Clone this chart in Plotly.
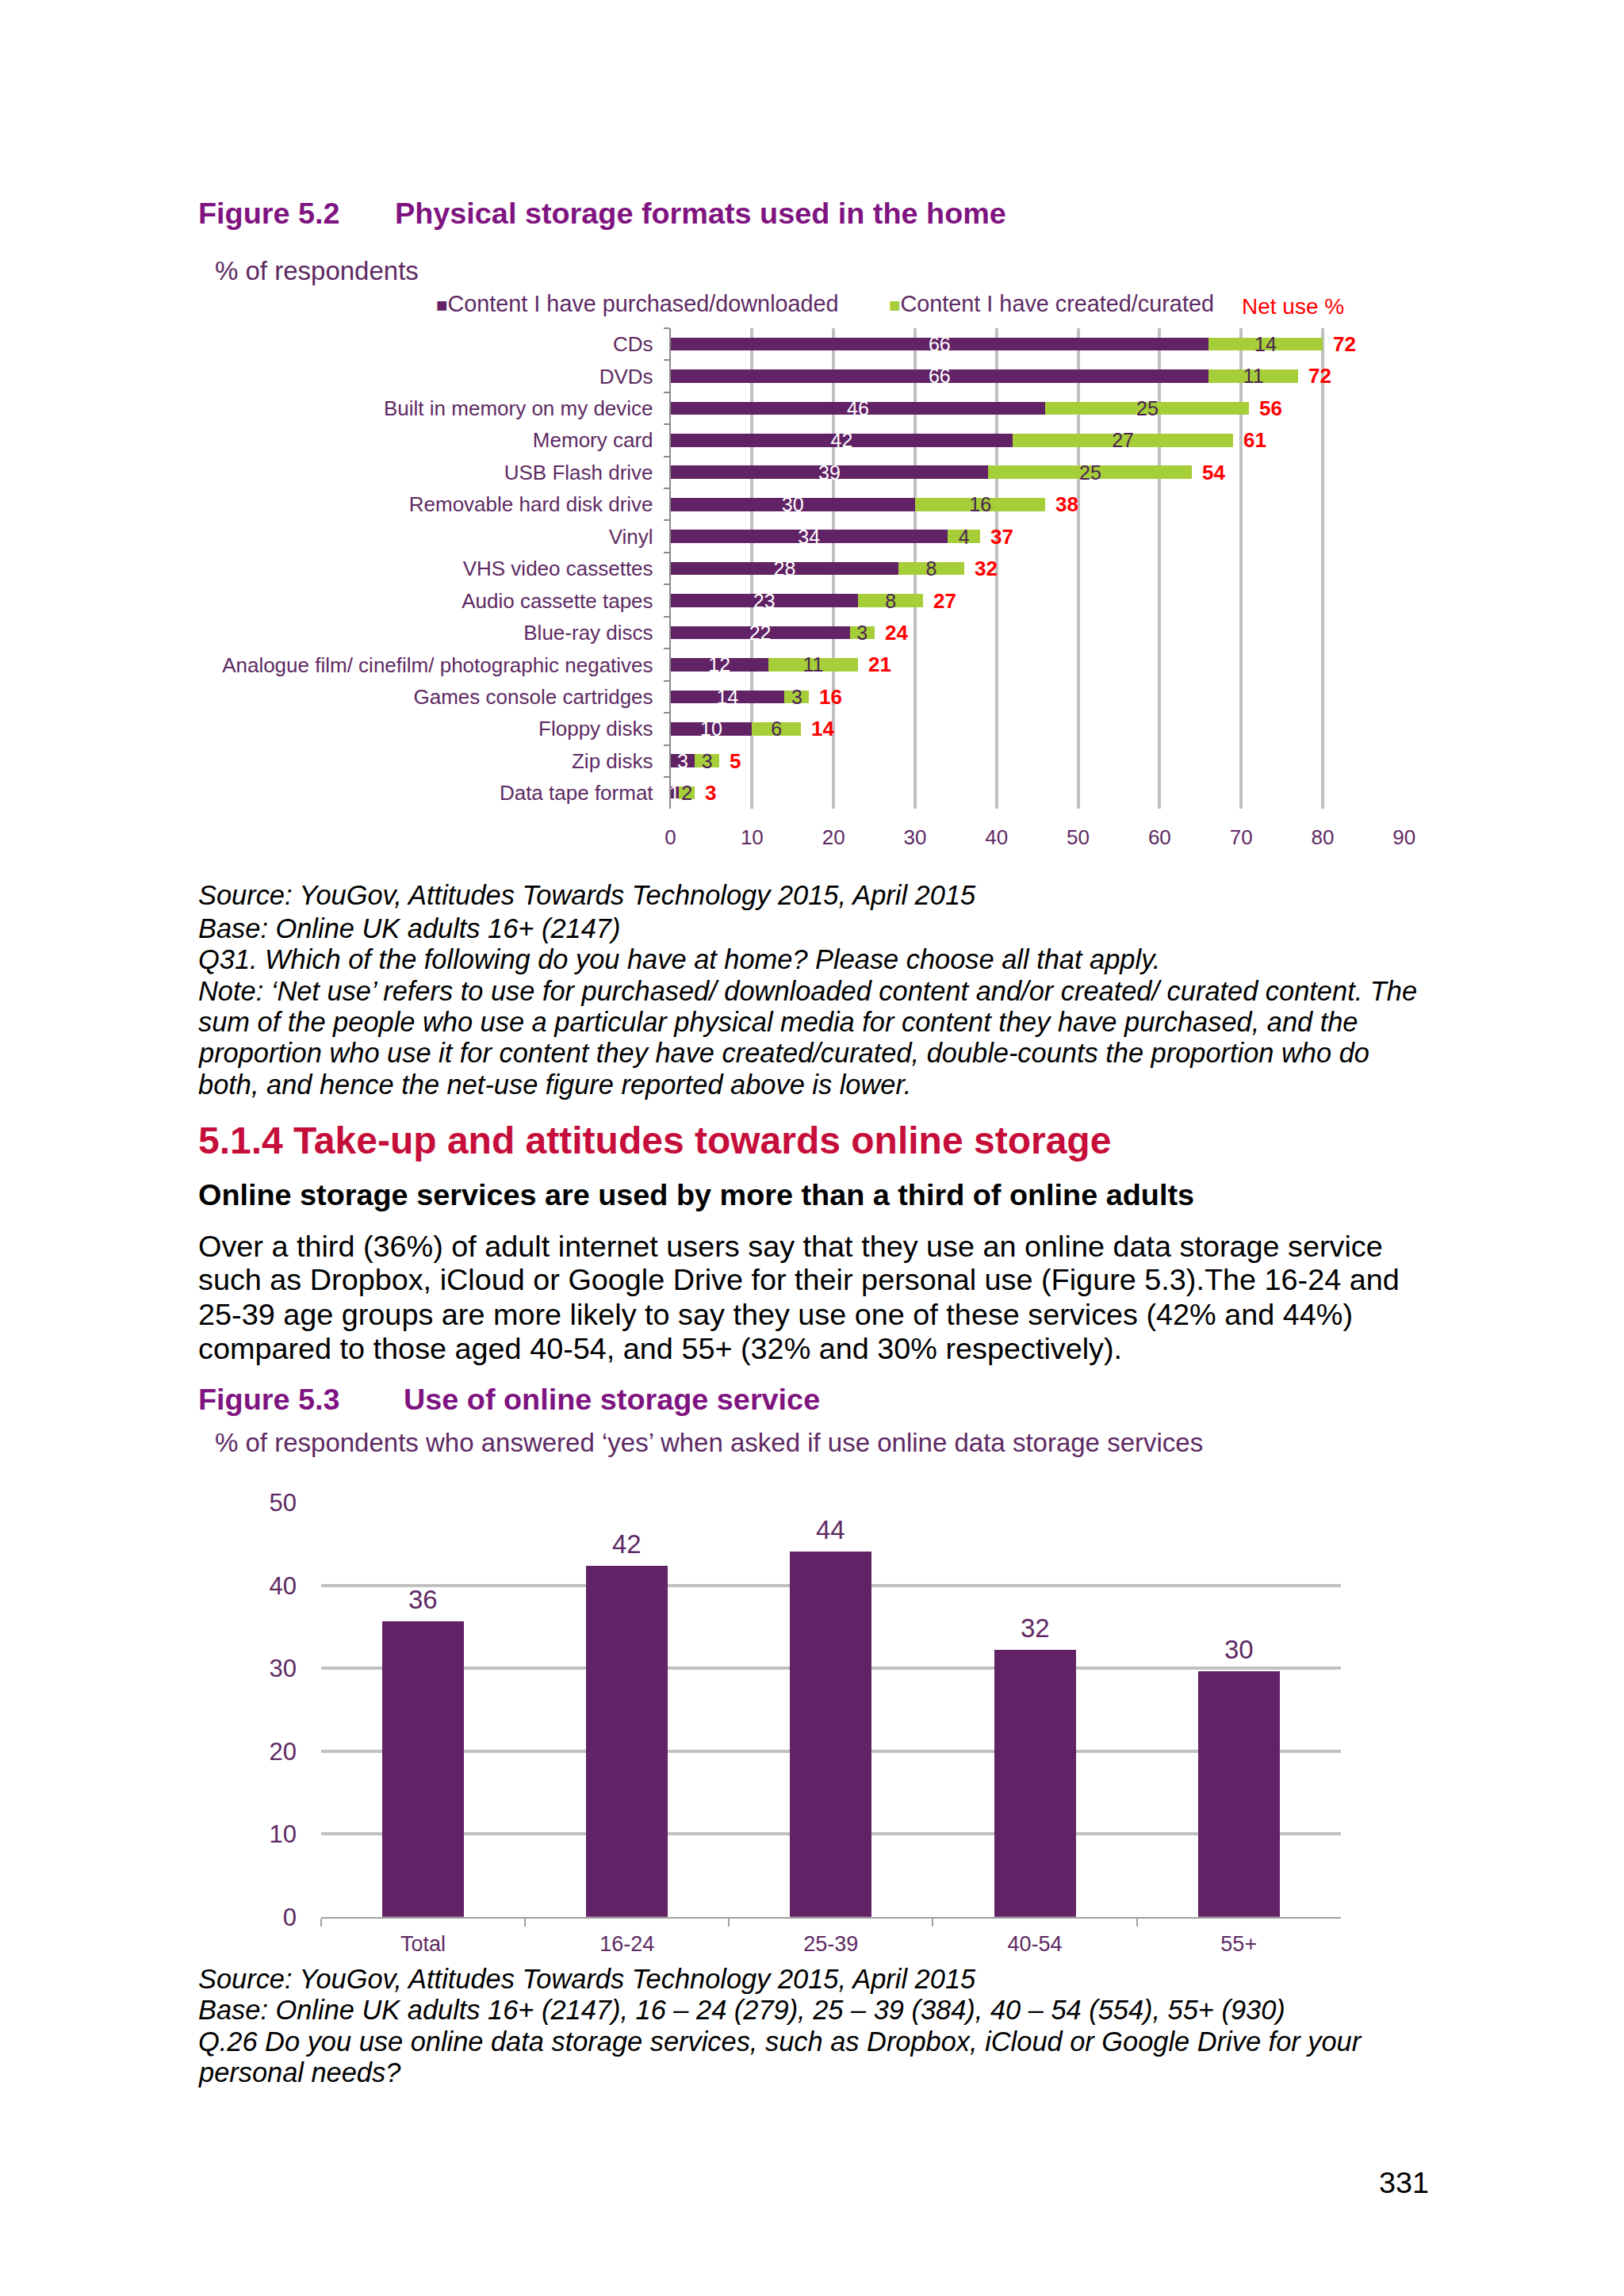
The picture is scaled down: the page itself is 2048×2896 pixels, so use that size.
import plotly.graph_objects as go

W, H = 2048, 2896

# Measured render mapping of this page (layout px -> photographed px), compensated here
SX, OX = 0.99054, 3.8
SY, OY = 0.98696, 18.58


def px(x):
    return ((x - OX) / SX) / W


def py(y):
    return 1 - ((y - OY) / SY) / H


FONT = "Liberation Sans, Arial, sans-serif"
PURPLE = "#622366"
GREEN = "#A6CE39"
TXT = "#5E2A63"
TITLE = "#7F1481"
CRIMSON = "#C60E3A"
RED = "#FF0000"
GRID = "#C0C0C0"

# ---------------- Figure 5.2 data ----------------
formats = [
    "CDs", "DVDs", "Built in memory on my device", "Memory card", "USB Flash drive",
    "Removable hard disk drive", "Vinyl", "VHS video cassettes", "Audio cassette tapes",
    "Blue-ray discs", "Analogue film/ cinefilm/ photographic negatives",
    "Games console cartridges", "Floppy disks", "Zip disks", "Data tape format",
]
purchased = [66, 66, 46, 42, 39, 30, 34, 28, 23, 22, 12, 14, 10, 3, 1]
created = [14, 11, 25, 27, 25, 16, 4, 8, 8, 3, 11, 3, 6, 3, 2]
net_use = [72, 72, 56, 61, 54, 38, 37, 32, 27, 24, 21, 16, 14, 5, 3]
x_ticks_52 = [0, 10, 20, 30, 40, 50, 60, 70, 80, 90]

# ---------------- Figure 5.3 data ----------------
age_groups = ["Total", "16-24", "25-39", "40-54", "55+"]
online_use = [35.7, 42.4, 44.1, 32.2, 29.6]
y_ticks_53 = [0, 10, 20, 30, 40, 50]

# ---------------- text ----------------
source_52 = [
    "Source: YouGov, Attitudes Towards Technology 2015, April 2015",
    "Base: Online UK adults 16+ (2147)",
    "Q31. Which of the following do you have at home? Please choose all that apply.",
    "Note: \u2018Net use\u2019 refers to use for purchased/ downloaded content and/or created/ curated content. The",
    "sum of the people who use a particular physical media for content they have purchased, and the",
    "proportion who use it for content they have created/curated, double-counts the proportion who do",
    "both, and hence the net-use figure reported above is lower.",
]
source_52_y = [1130, 1171, 1210, 1250, 1289, 1328, 1368]

paragraph = [
    "Over a third (36%) of adult internet users say that they use an online data storage service",
    "such as Dropbox, iCloud or Google Drive for their personal use (Figure 5.3).The 16-24 and",
    "25-39 age groups are more likely to say they use one of these services (42% and 44%)",
    "compared to those aged 40-54, and 55+ (32% and 30% respectively).",
]
paragraph_y = [1572, 1614, 1658, 1701]

source_53 = [
    "Source: YouGov, Attitudes Towards Technology 2015, April 2015",
    "Base: Online UK adults 16+ (2147), 16 \u2013 24 (279), 25 \u2013 39 (384), 40 \u2013 54 (554), 55+ (930)",
    "Q.26 Do you use online data storage services, such as Dropbox, iCloud or Google Drive for your",
    "personal needs?",
]
source_53_y = [2495, 2534, 2574, 2613]

fig = go.Figure()

fig.add_trace(go.Bar(
    y=formats, x=purchased, orientation="h", name="Content I have purchased/downloaded",
    marker=dict(color=PURPLE, line=dict(width=0)), width=0.41,
    text=purchased, textposition="inside", insidetextanchor="middle", constraintext="none",
    textangle=0, insidetextfont=dict(color="white", size=25, family=FONT),
    xaxis="x", yaxis="y", showlegend=False, hoverinfo="skip",
))
fig.add_trace(go.Bar(
    y=formats, x=created, orientation="h", name="Content I have created/curated",
    marker=dict(color=GREEN, line=dict(width=0)), width=0.41,
    text=created, textposition="inside", insidetextanchor="middle", constraintext="none",
    textangle=0, insidetextfont=dict(color="#4B2352", size=25, family=FONT),
    xaxis="x", yaxis="y", showlegend=False, hoverinfo="skip",
))
fig.add_trace(go.Bar(
    x=age_groups, y=online_use, marker=dict(color=PURPLE, line=dict(width=0)), width=0.4,
    xaxis="x2", yaxis="y2", showlegend=False, hoverinfo="skip",
))

ann = []
# net use labels
for f, p, c, n in zip(formats, purchased, created, net_use):
    ann.append(dict(x=p + c, y=f, xref="x", yref="y", text=f"<b>{n}</b>", showarrow=False,
                    xanchor="left", xshift=11, font=dict(color=RED, size=26, family=FONT)))
# value labels fig 5.3
for g, v in zip(age_groups, online_use):
    ann.append(dict(x=g, y=v, xref="x2", yref="y2", text=f"{v:.0f}", showarrow=False,
                    yanchor="bottom", yshift=7, font=dict(color=TXT, size=33, family=FONT)))


def txt(x, y, text, size, color="black", xanchor="left"):
    ann.append(dict(x=px(x), y=py(y), xref="paper", yref="paper", text=text, showarrow=False,
                    xanchor=xanchor, yanchor="middle", align="left",
                    font=dict(size=size, color=color, family=FONT)))


txt(245, 270, "<b>Figure 5.2</b>", 37.8, TITLE)
txt(493, 270, "<b>Physical storage formats used in the home</b>", 37.8, TITLE)
txt(266, 343, "% of respondents", 33, TXT)
txt(545, 384, f'<span style="color:{PURPLE};font-size:24px">\u25A0</span>Content I have purchased/downloaded', 28.8, TXT)
txt(1117, 384, f'<span style="color:{GREEN};font-size:24px">\u25A0</span>Content I have created/curated', 28.8, TXT)
txt(1562, 388, "Net use %", 28, RED)

for line, y in zip(source_52, source_52_y):
    txt(245, y, f"<i>{line}</i>", 34.4)

txt(245, 1439, "<b>5.1.4 Take-up and attitudes towards online storage</b>", 48, CRIMSON)
txt(245, 1507, "<b>Online storage services are used by more than a third of online adults</b>", 37.8)
for line, y in zip(paragraph, paragraph_y):
    txt(245, y, line, 37.8)

txt(245, 1765, "<b>Figure 5.3</b>", 37.8, TITLE)
txt(504, 1765, "<b>Use of online storage service</b>", 37.8, TITLE)
txt(266, 1819, "% of respondents who answered \u2018yes\u2019 when asked if use online data storage services", 33, TXT)

for line, y in zip(source_53, source_53_y):
    txt(245, y, f"<i>{line}</i>", 34.4)

txt(1802, 2752, "331", 37.8, "black", xanchor="right")

fig.update_layout(
    width=W, height=H,
    margin=dict(l=0, r=0, t=0, b=0, pad=0),
    paper_bgcolor="white", plot_bgcolor="rgba(0,0,0,0)",
    barmode="stack",
    font=dict(family=FONT, color=TXT),
    annotations=ann,
    xaxis=dict(
        domain=[px(843), px(1769)], anchor="y", range=[0, 90], tickvals=x_ticks_52,
        showgrid=True, gridcolor=GRID, gridwidth=3.5, zeroline=False, showline=False,
        ticks="", tickfont=dict(size=26, color=TXT, family=FONT), ticklabelstandoff=18,
        fixedrange=True,
    ),
    yaxis=dict(
        domain=[py(1021), py(415)], anchor="x", type="category", autorange="reversed",
        showgrid=False, zeroline=False, showline=True, linecolor="#8A8A8A", linewidth=1.5,
        ticks="outside", tickson="boundaries", ticklen=7, tickcolor="#8A8A8A", tickwidth=1.5,
        tickfont=dict(size=26, color=TXT, family=FONT), ticklabelstandoff=15, fixedrange=True,
    ),
    xaxis2=dict(
        domain=[px(402), px(1689)], anchor="y2", type="category",
        showgrid=False, zeroline=False, showline=True, linecolor="#A0A0A0", linewidth=2,
        ticks="outside", tickson="boundaries", ticklen=10, tickcolor="#A0A0A0", tickwidth=2,
        tickfont=dict(size=27, color=TXT, family=FONT), ticklabelstandoff=9, fixedrange=True,
    ),
    yaxis2=dict(
        domain=[py(2417), py(1895)], anchor="x2", range=[0, 50], tickvals=y_ticks_53,
        showgrid=True, gridcolor=GRID, gridwidth=4, zeroline=False, showline=False,
        ticks="", tickfont=dict(size=31, color=TXT, family=FONT), ticklabelstandoff=30,
        fixedrange=True,
    ),
)

post = (
    "document.documentElement.style.margin='0';"
    "document.documentElement.style.overflow='hidden';"
    "document.body.style.margin='0';"
    "document.body.style.overflow='hidden';"
    "var gd=document.getElementById('{plot_id}');"
    "gd.style.position='fixed';gd.style.left='0px';gd.style.top='0px';"
)

fig.write_html("out.html", config={"displayModeBar": False}, post_script=post)
